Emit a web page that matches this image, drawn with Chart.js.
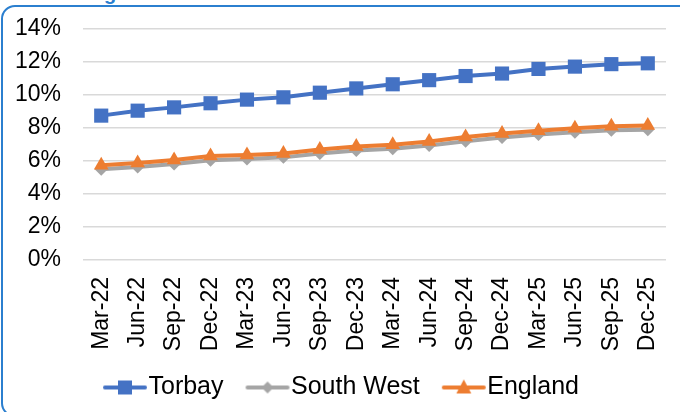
<!DOCTYPE html>
<html>
<head>
<meta charset="utf-8">
<script src="https://cdn.jsdelivr.net/npm/chart.js@4"></script>
<style>
  html, body { margin: 0; padding: 0; background: #ffffff; }
  #wrap { position: relative; width: 680px; height: 412px; overflow: hidden; background: #fff; }
  #frame { position: absolute; left: 1px; top: 5px; width: 700px; height: 412px; border: 2px solid #2B7FCF; border-radius: 14px; box-sizing: border-box; }
  #ttl { position: absolute; left: 104px; top: -18px; font: bold 20px "Liberation Sans", Arial, sans-serif; color: #2B7FCF; }
  canvas { position: absolute; left: 0; top: 0; }
</style>
</head>
<body>
<div id="wrap">
  <div id="ttl">g</div>
  <div id="frame"></div>
  <canvas id="c" width="680" height="412"></canvas>
</div>
<script>
// ---- data ----
const categories = ["Mar-22","Jun-22","Sep-22","Dec-22","Mar-23","Jun-23","Sep-23","Dec-23",
                    "Mar-24","Jun-24","Sep-24","Dec-24","Mar-25","Jun-25","Sep-25","Dec-25"];
const torbay    = [8.75, 9.05, 9.25, 9.50, 9.72, 9.86, 10.14, 10.40, 10.65, 10.90, 11.15, 11.30, 11.58, 11.72, 11.87, 11.92];
const southWest = [5.50, 5.64, 5.82, 6.05, 6.12, 6.22, 6.46, 6.64, 6.74, 6.94, 7.20, 7.42, 7.60, 7.74, 7.86, 7.90];
const england   = [5.74, 5.88, 6.06, 6.30, 6.36, 6.46, 6.70, 6.88, 6.98, 7.18, 7.45, 7.66, 7.84, 7.98, 8.10, 8.15];
const seriesNames = ["Torbay", "South West", "England"];
const yTicks = [0, 2, 4, 6, 8, 10, 12, 14];

const COLORS = { "Torbay": "#4472C4", "South West": "#A5A5A5", "England": "#ED7D31" };
const MARKERS = { "Torbay": "rect", "South West": "rectRot", "England": "triangle" };
const RADII = { "Torbay": 10, "South West": 6.5, "England": 8.5 };
const FONT = '"Liberation Sans", Arial, sans-serif';

function legendIcon(name) {
  const cv = document.createElement('canvas');
  cv.width = 60; cv.height = 18;
  const g = cv.getContext('2d');
  const col = COLORS[name];
  g.strokeStyle = col; g.fillStyle = col; g.lineWidth = 4; g.lineCap = 'round';
  g.beginPath(); g.moveTo(16, 9); g.lineTo(56, 9); g.stroke();
  const cx = 36, cy = 9;
  g.beginPath();
  if (name === 'Torbay') { g.rect(cx - 7, cy - 7, 14, 14); }
  else if (name === 'South West') { g.moveTo(cx, cy - 6); g.lineTo(cx + 6, cy); g.lineTo(cx, cy + 6); g.lineTo(cx - 6, cy); g.closePath(); }
  else { g.moveTo(cx, cy - 8); g.lineTo(cx + 7.5, cy + 6); g.lineTo(cx - 7.5, cy + 6); g.closePath(); }
  g.fill();
  return cv;
}

const seriesData = { "Torbay": torbay, "South West": southWest, "England": england };
// drawn order: England on top
const drawOrder = ["England", "South West", "Torbay"];
const datasets = drawOrder.map(name => ({
  label: name,
  data: seriesData[name],
  borderColor: COLORS[name],
  backgroundColor: COLORS[name],
  borderWidth: 4,
  pointStyle: MARKERS[name],
  pointRadius: RADII[name],
  pointHoverRadius: RADII[name],
  pointBorderWidth: 0,
  tension: 0,
  fill: false
}));

const PLOT_BOTTOM = 260;
const LAYOUT_BOTTOM = 2;

new Chart(document.getElementById('c'), {
  type: 'line',
  data: { labels: categories, datasets: datasets },
  options: {
    responsive: false,
    animation: false,
    events: [],
    layout: { padding: { left: 15, right: 14, top: 29, bottom: LAYOUT_BOTTOM } },
    plugins: {
      tooltip: { enabled: false },
      legend: {
        position: 'bottom',
        labels: {
          usePointStyle: true,
          pointStyleWidth: 34,
          boxHeight: 18,
          padding: 21,
          color: '#000000',
          font: { family: FONT, size: 25 },
          generateLabels: (chart) => seriesNames.map(name => ({
            text: name,
            fillStyle: COLORS[name],
            strokeStyle: COLORS[name],
            lineWidth: 0,
            pointStyle: legendIcon(name),
            datasetIndex: drawOrder.indexOf(name),
            fontColor: '#000000'
          }))
        }
      }
    },
    scales: {
      x: {
        offset: true,
        grid: { display: false, drawTicks: false },
        border: { display: false },
        ticks: { color: '#000000', font: { family: FONT, size: 23 }, minRotation: 90, maxRotation: 90, padding: 17, autoSkip: false },
        afterFit: (scale) => {
          scale.paddingLeft = 0; scale.paddingRight = 0;
          const lg = scale.chart.legend;
          const lh = lg && lg.height ? lg.height : 60;
          scale.height = scale.chart.height - LAYOUT_BOTTOM - lh - PLOT_BOTTOM;
        }
      },
      y: {
        min: 0, max: 14,
        afterBuildTicks: (scale) => { scale.ticks = yTicks.map(v => ({ value: v })); },
        grid: { color: '#D9D9D9', lineWidth: 1.5, drawTicks: false },
        border: { display: false },
        ticks: { color: '#000000', font: { family: FONT, size: 23 }, padding: 22, callback: (v) => v + '%' },
        afterFit: (scale) => { scale.paddingTop = 0; scale.paddingBottom = 0; scale.width = 68; }
      }
    }
  }
});
</script>
</body>
</html>
